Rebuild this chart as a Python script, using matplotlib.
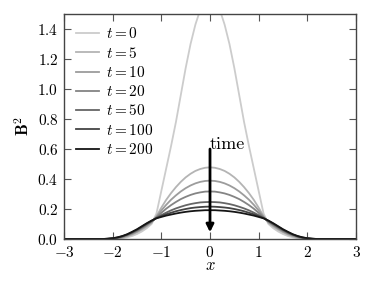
import matplotlib
matplotlib.use("Agg")
import matplotlib.pyplot as plt

plt.rcParams['font.family'] = 'serif'
plt.rcParams['font.serif'] = ['cmr10', 'DejaVu Serif']
plt.rcParams['mathtext.fontset'] = 'cm'
plt.rcParams['axes.formatter.use_mathtext'] = True
plt.rcParams['axes.unicode_minus'] = True

x = [-3.0, -2.5, -2.2, -2.1, -2.0, -1.9, -1.8, -1.7, -1.6, -1.5, -1.4, -1.3, -1.2,
     -1.1, -1.0, -0.9, -0.8, -0.7, -0.6, -0.5, -0.4, -0.3, -0.2, -0.1, 0.0,
     0.1, 0.2, 0.3, 0.4, 0.5, 0.6, 0.7, 0.8, 0.9, 1.0, 1.1,
     1.2, 1.3, 1.4, 1.5, 1.6, 1.7, 1.8, 1.9, 2.0, 2.1, 2.2, 2.5, 3.0]

b2_t0 = [0, 0, 0, 0, 0.000, 0.002, 0.005, 0.011, 0.020, 0.033, 0.050, 0.072, 0.100,
         0.170, 0.32, 0.47, 0.62, 0.78, 0.96, 1.14, 1.30, 1.43, 1.53, 1.59, 1.61,
         1.59, 1.53, 1.43, 1.30, 1.14, 0.96, 0.78, 0.62, 0.47, 0.32, 0.170,
         0.100, 0.072, 0.050, 0.033, 0.020, 0.011, 0.005, 0.002, 0.000, 0, 0, 0, 0]
b2_t5 = [0, 0, 0, 0, 0.001, 0.004, 0.009, 0.017, 0.029, 0.044, 0.062, 0.083, 0.108,
         0.153, 0.209, 0.261, 0.306, 0.346, 0.381, 0.411, 0.435, 0.454, 0.467, 0.475, 0.478,
         0.475, 0.467, 0.454, 0.435, 0.411, 0.381, 0.346, 0.306, 0.261, 0.209, 0.153,
         0.108, 0.083, 0.062, 0.044, 0.029, 0.017, 0.009, 0.004, 0.001, 0, 0, 0, 0]
b2_t10 = [0, 0, 0, 0.000, 0.002, 0.005, 0.012, 0.021, 0.033, 0.049, 0.068, 0.089, 0.112,
          0.148, 0.190, 0.228, 0.262, 0.291, 0.317, 0.339, 0.357, 0.371, 0.381, 0.387, 0.389,
          0.387, 0.381, 0.371, 0.357, 0.339, 0.317, 0.291, 0.262, 0.228, 0.190, 0.148,
          0.112, 0.089, 0.068, 0.049, 0.033, 0.021, 0.012, 0.005, 0.002, 0.000, 0, 0, 0]
b2_t20 = [0, 0, 0, 0.001, 0.003, 0.007, 0.014, 0.025, 0.038, 0.054, 0.073, 0.094, 0.116,
          0.144, 0.174, 0.202, 0.226, 0.247, 0.266, 0.281, 0.294, 0.304, 0.311, 0.316, 0.317,
          0.316, 0.311, 0.304, 0.294, 0.281, 0.266, 0.247, 0.226, 0.202, 0.174, 0.144,
          0.116, 0.094, 0.073, 0.054, 0.038, 0.025, 0.014, 0.007, 0.003, 0.001, 0, 0, 0]
b2_t50 = [0, 0, 0, 0.001, 0.004, 0.009, 0.017, 0.028, 0.042, 0.059, 0.078, 0.099, 0.119,
          0.141, 0.159, 0.176, 0.191, 0.204, 0.215, 0.225, 0.233, 0.239, 0.244, 0.246, 0.247,
          0.246, 0.244, 0.239, 0.233, 0.225, 0.215, 0.204, 0.191, 0.176, 0.159, 0.141,
          0.119, 0.099, 0.078, 0.059, 0.042, 0.028, 0.017, 0.009, 0.004, 0.001, 0, 0, 0]
b2_t100 = [0, 0, 0, 0.002, 0.005, 0.010, 0.018, 0.030, 0.045, 0.062, 0.082, 0.102, 0.121,
           0.139, 0.153, 0.165, 0.175, 0.185, 0.193, 0.200, 0.206, 0.210, 0.213, 0.215, 0.216,
           0.215, 0.213, 0.210, 0.206, 0.200, 0.193, 0.185, 0.175, 0.165, 0.153, 0.139,
           0.121, 0.102, 0.082, 0.062, 0.045, 0.030, 0.018, 0.010, 0.005, 0.002, 0, 0, 0]
b2_t200 = [0, 0, 0, 0.002, 0.005, 0.011, 0.020, 0.032, 0.048, 0.065, 0.085, 0.105, 0.123,
           0.138, 0.147, 0.156, 0.163, 0.170, 0.176, 0.181, 0.185, 0.188, 0.190, 0.192, 0.192,
           0.192, 0.190, 0.188, 0.185, 0.181, 0.176, 0.170, 0.163, 0.156, 0.147, 0.138,
           0.123, 0.105, 0.085, 0.065, 0.048, 0.032, 0.020, 0.011, 0.005, 0.002, 0, 0, 0]

times = [0, 5, 10, 20, 50, 100, 200]
series = [b2_t0, b2_t5, b2_t10, b2_t20, b2_t50, b2_t100, b2_t200]
grays = ['#cccccc', '#b4b4b4', '#9c9c9c', '#848484', '#666666', '#444444', '#151515']

fig = plt.figure(figsize=(3.74, 2.82), dpi=100)
ax = fig.add_axes([0.171, 0.1525, 0.781, 0.7975])

for t, y, c in zip(times, series, grays):
    ax.plot(x, y, color=c, lw=1.3, label=r'$t=%d$' % t)

ax.annotate('', xy=(0, 0.045), xytext=(0, 0.6),
            arrowprops=dict(arrowstyle='-|>', color='black', lw=2,
                            mutation_scale=11, shrinkA=0, shrinkB=0))
ax.text(0, 0.6, 'time', fontsize=13, ha='left', va='baseline')

ax.set_xlim(-3, 3)
ax.set_ylim(0, 1.5)
ax.set_xticks([-3, -2, -1, 0, 1, 2, 3])
ax.set_yticks([0.0, 0.2, 0.4, 0.6, 0.8, 1.0, 1.2, 1.4])
ax.tick_params(direction='in', top=True, right=True, labelsize=11, length=5,
               color='#555555', pad=4)
for s in ax.spines.values():
    s.set_color('#444444')
    s.set_linewidth(1.0)
ax.set_xlabel(r'$x$', fontsize=12, labelpad=-1)
ax.set_ylabel(r'$\mathbf{B}^2$', fontsize=12, labelpad=4)

leg = ax.legend(loc='upper left', frameon=False, fontsize=11, handlelength=1.5,
                handletextpad=0.45, labelspacing=0.28, borderaxespad=0.5,
                borderpad=0.3)

fig.savefig('out.png', dpi=100)
